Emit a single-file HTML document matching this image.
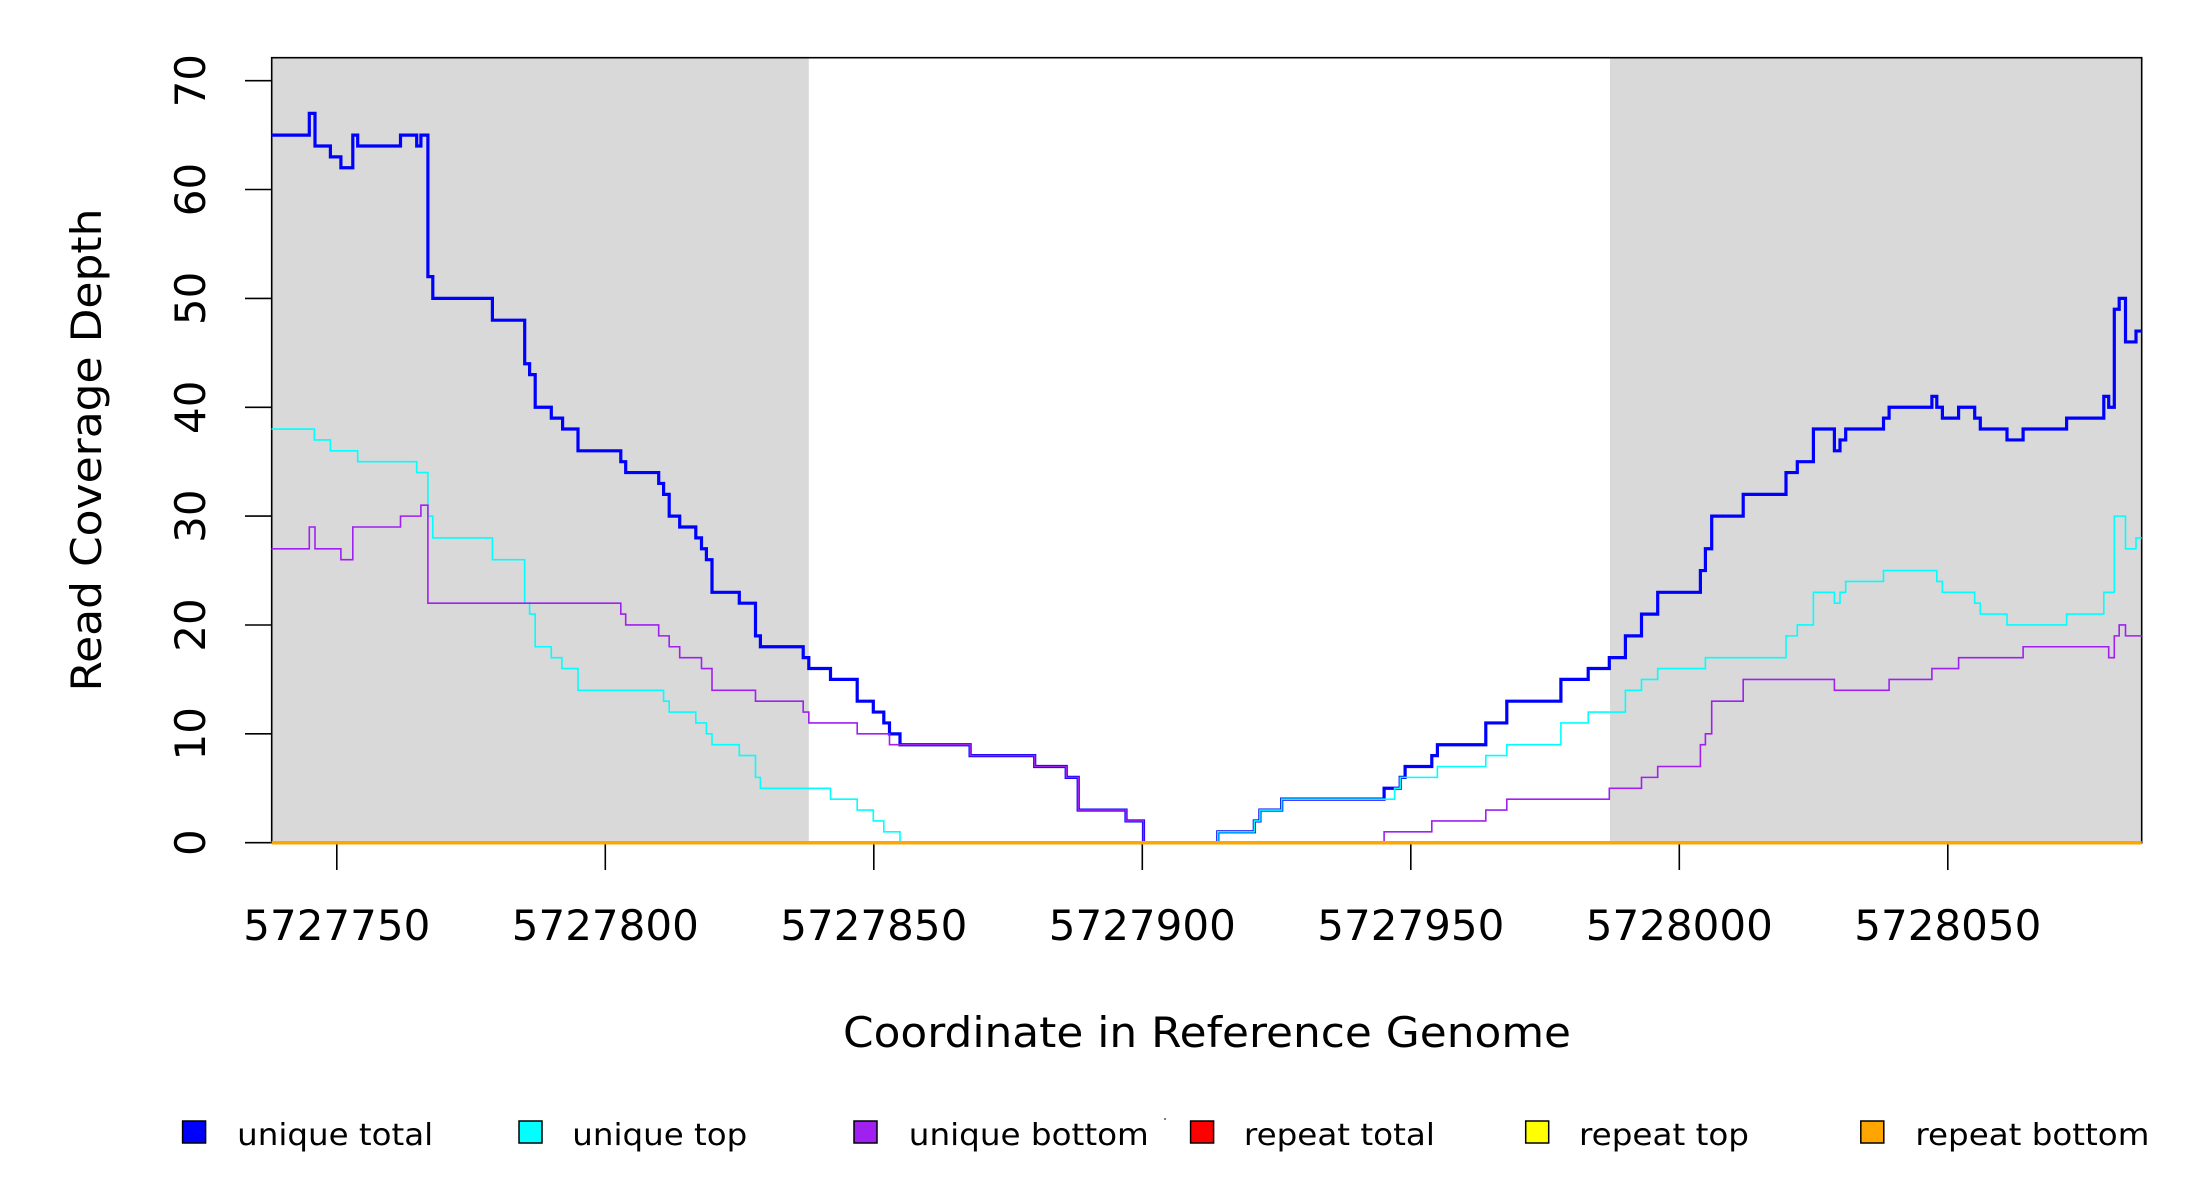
<!DOCTYPE html>
<html><head><meta charset="utf-8"><style>
html,body{margin:0;padding:0;background:#fff;}
svg{display:block;font-family:"DejaVu Sans","Liberation Sans",sans-serif;}
</style></head><body>
<svg width="2200" height="1200" viewBox="0 0 2200 1200" xmlns="http://www.w3.org/2000/svg">
<rect x="0" y="0" width="2200" height="1200" fill="#fff"/>
<rect x="271.7" y="57.7" width="537.1" height="785" fill="#d9d9d9"/>
<rect x="1610" y="57.7" width="531.7" height="785" fill="#d9d9d9"/>
<rect x="271.7" y="57.7" width="1870" height="785" fill="none" stroke="#000" stroke-width="1.6"/>
<g fill="none" stroke-linejoin="miter" transform="matrix(1 0 0 -10.886 0 842.7)">
<path vector-effect="non-scaling-stroke" stroke="#0000ff" stroke-width="3.2" d="M271.5 65 H309.3 V67 H315 V64 H330.4 V63 H340.9 V62 H352.8 V65 H357.7 V64 H400.5 V65 H416.7 V64 H420.9 V65 H427.9 V52 H432.8 V50 H492.4 V48 H524.7 V44 H529.6 V43 H535.2 V40 H551.3 V39 H562.6 V38 H578 V36 H620.8 V35 H625.7 V34 H658.7 V33 H663.6 V32 H669.2 V30 H679.7 V29 H695.8 V28 H701.5 V27 H706.4 V26 H712 V23 H739.3 V22 H755.5 V19 H760.4 V18 H803.2 V17 H808.8 V16 H830.5 V15 H857.2 V13 H873.3 V12 H883.8 V11 H889.5 V10 H900 V9 H970.1 V8 H1034.7 V7 H1066.2 V6 H1078.2 V3 H1126 V2 H1143.5 V0 H1217.8 V1 H1254.3 V2 H1259.9 V3 H1281.7 V4 H1384.1 V5 H1400.2 V6 H1405.1 V7 H1431.8 V8 H1437.4 V9 H1485.8 V11 H1506.8 V13 H1560.9 V15 H1588.2 V16 H1609.3 V17 H1625.4 V19 H1641.5 V21 H1657.7 V23 H1700.4 V25 H1705.4 V27 H1711.7 V30 H1743.2 V32 H1786 V34 H1797.3 V35 H1813.4 V38 H1834.4 V36 H1840 V37 H1845.7 V38 H1883.5 V39 H1889.1 V40 H1931.9 V41 H1936.8 V40 H1942.4 V39 H1958.6 V40 H1974.7 V39 H1980.3 V38 H2007 V37 H2023.1 V38 H2066.6 V39 H2103.8 V41 H2108.7 V40 H2114.3 V49 H2119.2 V50 H2125.5 V46 H2136 V47 H2141.7"/>
<path vector-effect="non-scaling-stroke" stroke="#00ffff" stroke-width="1.6" d="M271.5 38 H314.3 V37 H330.4 V36 H357.7 V35 H416.7 V34 H427.9 V30 H432.8 V28 H492.4 V26 H524.7 V22 H529.6 V21 H535.2 V18 H551.3 V17 H561.9 V16 H578 V14 H663.6 V13 H669.2 V12 H695.8 V11 H706.4 V10 H712 V9 H739.3 V8 H755.5 V6 H760.4 V5 H830.5 V4 H857.2 V3 H873.3 V2 H883.8 V1 H900 V0 H1217.8 V1 H1254.3 V2 H1259.9 V3 H1281.7 V4 H1394.6 V5 H1400.2 V6 H1437.4 V7 H1485.8 V8 H1506.8 V9 H1560.9 V11 H1588.2 V12 H1625.4 V14 H1641.5 V15 H1657.7 V16 H1705.4 V17 H1786 V19 H1797.3 V20 H1813.4 V23 H1834.4 V22 H1840 V23 H1845.7 V24 H1883.5 V25 H1936.8 V24 H1942.4 V23 H1974.7 V22 H1980.3 V21 H2007 V20 H2066.6 V21 H2103.8 V23 H2114.3 V30 H2125.5 V27 H2136 V28 H2141.7"/>
<path vector-effect="non-scaling-stroke" stroke="#a020f0" stroke-width="1.6" d="M271.5 27 H309.3 V29 H315 V27 H340.9 V26 H352.8 V29 H400.5 V30 H420.9 V31 H427.9 V22 H620.8 V21 H625.7 V20 H658.7 V19 H669.2 V18 H679.7 V17 H701.5 V16 H712 V14 H755.5 V13 H803.2 V12 H808.8 V11 H857.2 V10 H889.5 V9 H970.1 V8 H1034.7 V7 H1066.2 V6 H1078.2 V3 H1126 V2 H1143.5 V0 H1384.1 V1 H1431.8 V2 H1485.8 V3 H1506.8 V4 H1609.3 V5 H1641.5 V6 H1657.7 V7 H1700.4 V9 H1705.4 V10 H1711.7 V13 H1743.2 V15 H1834.4 V14 H1889.1 V15 H1931.9 V16 H1958.6 V17 H2023.1 V18 H2108.7 V17 H2114.3 V19 H2119.2 V20 H2125.5 V19 H2141.7"/>
</g>
<line x1="271.7" y1="842.7" x2="2141.7" y2="842.7" stroke="#ffa500" stroke-width="3.5"/>
<g stroke="#000" stroke-width="1.6">
<line x1="245" y1="842.7" x2="270.9" y2="842.7"/>
<line x1="245" y1="733.8" x2="271.7" y2="733.8"/>
<line x1="245" y1="625" x2="271.7" y2="625"/>
<line x1="245" y1="516.1" x2="271.7" y2="516.1"/>
<line x1="245" y1="407.3" x2="271.7" y2="407.3"/>
<line x1="245" y1="298.4" x2="271.7" y2="298.4"/>
<line x1="245" y1="189.5" x2="271.7" y2="189.5"/>
<line x1="245" y1="80.7" x2="271.7" y2="80.7"/>
<line x1="336.8" y1="844.5" x2="336.8" y2="870"/>
<line x1="605.3" y1="844.5" x2="605.3" y2="870"/>
<line x1="873.8" y1="844.5" x2="873.8" y2="870"/>
<line x1="1142.3" y1="844.5" x2="1142.3" y2="870"/>
<line x1="1410.8" y1="844.5" x2="1410.8" y2="870"/>
<line x1="1679.3" y1="844.5" x2="1679.3" y2="870"/>
<line x1="1947.8" y1="844.5" x2="1947.8" y2="870"/>
</g>
<g font-size="42" fill="#000" text-anchor="middle">
<text transform="translate(205 842.7) rotate(-90)">0</text>
<text transform="translate(205 733.8) rotate(-90)">10</text>
<text transform="translate(205 625) rotate(-90)">20</text>
<text transform="translate(205 516.1) rotate(-90)">30</text>
<text transform="translate(205 407.3) rotate(-90)">40</text>
<text transform="translate(205 298.4) rotate(-90)">50</text>
<text transform="translate(205 189.5) rotate(-90)">60</text>
<text transform="translate(205 80.7) rotate(-90)">70</text>
<text x="336.8" y="940">5727750</text>
<text x="605.3" y="940">5727800</text>
<text x="873.8" y="940">5727850</text>
<text x="1142.3" y="940">5727900</text>
<text x="1410.8" y="940">5727950</text>
<text x="1679.3" y="940">5728000</text>
<text x="1947.8" y="940">5728050</text>
<text x="1207" y="1047" textLength="728" lengthAdjust="spacingAndGlyphs">Coordinate in Reference Genome</text>
<text transform="translate(101 450) rotate(-90)" textLength="483" lengthAdjust="spacingAndGlyphs">Read Coverage Depth</text>
</g>
<g stroke="#000" stroke-width="1.5">
<rect x="182.6" y="1121" width="23" height="22" fill="#0000ff"/>
<rect x="519" y="1121" width="23" height="22" fill="#00ffff"/>
<rect x="854" y="1121" width="23" height="22" fill="#a020f0"/>
<rect x="1190.6" y="1121" width="23" height="22" fill="#ff0000"/>
<rect x="1525.7" y="1121" width="23" height="22" fill="#ffff00"/>
<rect x="1860.8" y="1121" width="23" height="22" fill="#ffa500"/>
</g>
<circle cx="1165" cy="1119" r="1" fill="#555"/>
<g font-size="30" fill="#000">
<text x="237.2" y="1145" textLength="196" lengthAdjust="spacingAndGlyphs">unique total</text>
<text x="572.3" y="1145" textLength="175" lengthAdjust="spacingAndGlyphs">unique top</text>
<text x="908.8" y="1145" textLength="240" lengthAdjust="spacingAndGlyphs">unique bottom</text>
<text x="1243.9" y="1145" textLength="191" lengthAdjust="spacingAndGlyphs">repeat total</text>
<text x="1579" y="1145" textLength="170" lengthAdjust="spacingAndGlyphs">repeat top</text>
<text x="1915.4" y="1145" textLength="234" lengthAdjust="spacingAndGlyphs">repeat bottom</text>
</g>
</svg>
</body></html>
